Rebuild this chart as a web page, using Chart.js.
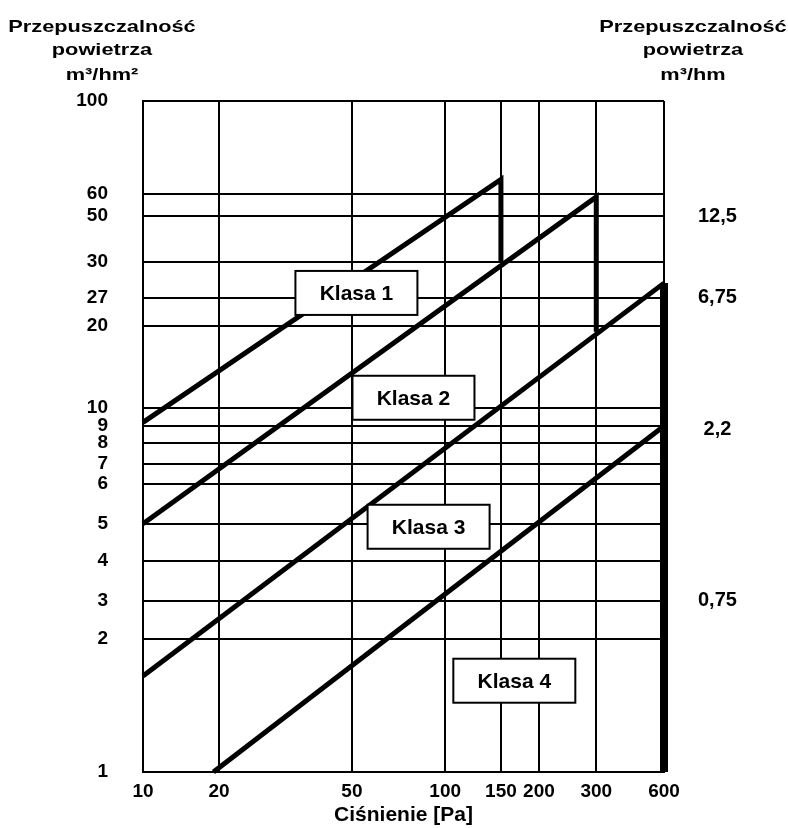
<!DOCTYPE html>
<html lang="pl">
<head>
<meta charset="utf-8">
<title>Klasy przepuszczalności powietrza</title>
<script src="https://cdn.jsdelivr.net/npm/chart.js"></script>
<style>
  html, body { margin: 0; padding: 0; background: #fff; }
  #wykres { display: block; }
</style>
</head>
<body>
<canvas id="wykres" width="788" height="828"></canvas>
<script>
// Podziałka osi X - ciśnienie [Pa]
const cisnienieTicks = [10, 20, 50, 100, 150, 200, 300, 600];
// Lewa oś - przepuszczalność powietrza m3/hm2
const przepuszczalnoscTicks = [1, 2, 3, 4, 5, 6, 7, 8, 9, 10, 20, 27, 30, 50, 60, 100];
// Prawa oś - przepuszczalność powietrza m3/hm
const przepuszczalnoscHmTicks = [0.75, 2.2, 6.75, 12.5];
const przepuszczalnoscHmLabels = ["0,75", "2,2", "6,75", "12,5"];

// Linie granicznych klas (ciśnienie, przepuszczalność)
const klasy = ["Klasa 1", "Klasa 2", "Klasa 3", "Klasa 4"];
const klasa1Pa = [10, 150, 150];
const klasa1Q = [9.2, 65, 30];
const klasa2Pa = [10, 300, 300];
const klasa2Q = [5, 58.5, 19];
const klasa3Pa = [10, 600];
const klasa3Q = [1.65, 28.2];
const klasa4Pa = [19, 600];
const klasa4Q = [1, 9];
// pionowa granica przy 600 Pa
const granicaPa = [600, 600];
const granicaQ = [28.2, 1];

// Wykres nie ma równej podziałki: położenie linii siatki jako ułamek długości osi
const rozklad = {
  x: { values: cisnienieTicks, pos: [0, 0.146, 0.401, 0.580, 0.687, 0.760, 0.870, 1] },
  y: { values: przepuszczalnoscTicks,
       pos: [0, 0.198, 0.255, 0.3145, 0.370, 0.429, 0.459, 0.490, 0.5155, 0.5425, 0.665, 0.7065, 0.760, 0.8285, 0.8615, 1] }
};
// prawa oś = lewa / 4 (ta sama siatka)
rozklad.y2 = { values: przepuszczalnoscTicks.map(v => v / 4), pos: rozklad.y.pos };

const podzialki = { x: cisnienieTicks, y: przepuszczalnoscTicks, y2: przepuszczalnoscHmTicks };

function ulamek(s, v) {
  const n = s.values.length;
  let i = 0;
  while (i < n - 2 && v > s.values[i + 1]) i++;
  const a = Math.log10(s.values[i]), b = Math.log10(s.values[i + 1]);
  const t = (Math.log10(v) - a) / (b - a);
  return s.pos[i] + t * (s.pos[i + 1] - s.pos[i]);
}

function wartosc(s, f) {
  const n = s.pos.length;
  let i = 0;
  while (i < n - 2 && f > s.pos[i + 1]) i++;
  const t = (f - s.pos[i]) / (s.pos[i + 1] - s.pos[i]);
  const a = Math.log10(s.values[i]), b = Math.log10(s.values[i + 1]);
  return Math.pow(10, a + t * (b - a));
}

// Własna skala Chart.js z nierówną podziałką
class PodzialkaScale extends Chart.LinearScale {
  determineDataLimits() {
    const s = rozklad[this.id];
    this.min = s.values[0];
    this.max = s.values[s.values.length - 1];
  }
  buildTicks() {
    return podzialki[this.id].map(v => ({ value: v }));
  }
  getPixelForValue(value) {
    return this.getPixelForDecimal(ulamek(rozklad[this.id], value));
  }
  getValueForPixel(pixel) {
    return wartosc(rozklad[this.id], this.getDecimalForPixel(pixel));
  }
}
PodzialkaScale.id = "podzialka";
PodzialkaScale.defaults = Chart.LinearScale.defaults;
Chart.register(PodzialkaScale);

function punkty(pa, q) {
  const tab = [];
  for (let i = 0; i < pa.length; i++) {
    tab.push({ x: pa[i], y: q[i] });
  }
  return tab;
}

const czcionka = "'Liberation Sans', Arial, sans-serif";

// Ramki z nazwami klas (środek w jednostkach osi)
const polozenieEtykiet = {
  cisnienie: [51.7, 79, 88.4, 166],
  przepuszczalnosc: [27.4, 10.9, 4.91, 1.61]
};

const etykietyKlas = {
  id: "etykietyKlas",
  afterDatasetsDraw(chart) {
    const ctx = chart.ctx;
    const sx = chart.scales.x;
    const sy = chart.scales.y;
    ctx.save();
    ctx.font = "bold 21px " + czcionka;
    ctx.textAlign = "center";
    ctx.textBaseline = "middle";
    for (let i = 0; i < klasy.length; i++) {
      const px = sx.getPixelForValue(polozenieEtykiet.cisnienie[i]);
      const py = sy.getPixelForValue(polozenieEtykiet.przepuszczalnosc[i]);
      ctx.fillStyle = "#fff";
      ctx.fillRect(px - 61, py - 22, 122, 44);
      ctx.lineWidth = 2;
      ctx.strokeStyle = "#000";
      ctx.strokeRect(px - 61, py - 22, 122, 44);
      ctx.fillStyle = "#000";
      ctx.fillText(klasy[i], px, py + 1);
    }
    ctx.restore();
  }
};

// Opisy osi Y nad wykresem
const naglowki = {
  id: "naglowki",
  afterDraw(chart) {
    const ctx = chart.ctx;
    const opisy = [
      { x: 102, linie: ["Przepuszczalność", "powietrza", "m³/hm²"] },
      { x: 693, linie: ["Przepuszczalność", "powietrza", "m³/hm"] }
    ];
    const linieY = [32, 55, 80];
    ctx.save();
    ctx.font = "bold 17px " + czcionka;
    ctx.fillStyle = "#000";
    ctx.textAlign = "center";
    ctx.textBaseline = "alphabetic";
    for (const opis of opisy) {
      for (let i = 0; i < opis.linie.length; i++) {
        ctx.save();
        ctx.translate(opis.x, linieY[i]);
        ctx.scale(1.28, 1);
        ctx.fillText(opis.linie[i], 0, 0);
        ctx.restore();
      }
    }
    ctx.restore();
  }
};

const linia = { showLine: true, borderColor: "#000", pointRadius: 0, borderWidth: 5, clip: false, fill: false };

const data = {
  datasets: [
    { ...linia, label: klasy[0], data: punkty(klasa1Pa, klasa1Q) },
    { ...linia, label: klasy[1], data: punkty(klasa2Pa, klasa2Q) },
    { ...linia, label: klasy[2], data: punkty(klasa3Pa, klasa3Q) },
    { ...linia, label: klasy[3], data: punkty(klasa4Pa, klasa4Q) },
    { ...linia, label: "600 Pa", data: punkty(granicaPa, granicaQ), borderWidth: 8 }
  ]
};

const tickFont = (size) => ({ family: czcionka, size: size, weight: "bold" });

const config = {
  type: "scatter",
  data: data,
  options: {
    responsive: false,
    devicePixelRatio: 1,
    animation: false,
    layout: { padding: { top: 101, left: 0, right: 0, bottom: 0 } },
    plugins: {
      legend: { display: false },
      tooltip: { enabled: false }
    },
    scales: {
      x: {
        type: "podzialka",
        position: "bottom",
        grid: { color: "#000", lineWidth: 2, drawTicks: false },
        border: { color: "#000", width: 2 },
        ticks: {
          autoSkip: false, maxRotation: 0, padding: 8, color: "#000", font: tickFont(19),
          callback: (v, i) => String(cisnienieTicks[i])
        },
        title: { display: true, text: "Ciśnienie [Pa]", color: "#000", font: tickFont(21), padding: 0 },
        afterFit: (s) => { s.height = 56; }
      },
      y: {
        type: "podzialka",
        position: "left",
        grid: { color: "#000", lineWidth: 2, drawTicks: false },
        border: { color: "#000", width: 2 },
        ticks: {
          autoSkip: false, padding: 35, color: "#000", font: tickFont(19),
          callback: (v, i) => String(przepuszczalnoscTicks[i])
        },
        afterFit: (s) => { s.width = 143; }
      },
      y2: {
        type: "podzialka",
        position: "right",
        grid: { display: false, drawTicks: false },
        border: { display: false },
        ticks: {
          autoSkip: false, padding: 34, crossAlign: "center", color: "#000", font: tickFont(20),
          callback: (v, i) => przepuszczalnoscHmLabels[i]
        },
        afterFit: (s) => { s.width = 124; }
      }
    }
  },
  plugins: [etykietyKlas, naglowki]
};

const wykres = new Chart(document.querySelector("#wykres"), config);
</script>
</body>
</html>
